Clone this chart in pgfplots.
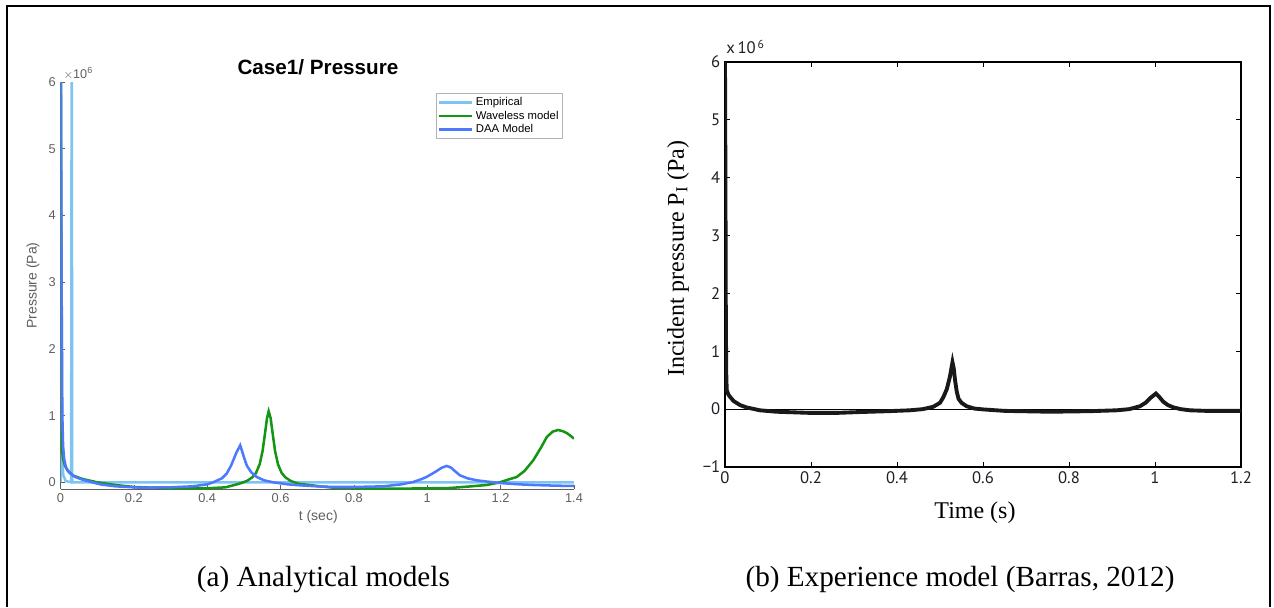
\documentclass[border=0pt]{standalone}
\usepackage{fontspec}
\setmainfont{Liberation Serif}
\newfontfamily\helv{Liberation Sans}
\newfontfamily\myr{PT Sans}
\usepackage{pgfplots}
\pgfplotsset{compat=1.18}
\definecolor{emp}{RGB}{125,196,245}
\definecolor{wav}{RGB}{20,150,20}
\definecolor{daa}{RGB}{77,121,255}
\definecolor{axgray}{RGB}{95,95,95}
\definecolor{tk}{RGB}{30,30,40}

\begin{document}
\begin{tikzpicture}
\path[use as bounding box] (0,0) rectangle (955.5pt,455.25pt);
\draw[line width=1.5pt] (4.9pt,0) -- (4.9pt,450.4pt) -- (952.5pt,450.4pt) -- (952.5pt,0);

% ---------------- left panel ----------------
\begin{axis}[
  at={(45.375pt,88.5pt)}, anchor=south west, scale only axis,
  width=385.1pt, height=305.25pt,
  xmin=0, xmax=1.4, ymin=-0.1, ymax=6,
  axis lines*=left,
  axis line style={axgray, line width=0.6pt},
  tick align=inside, major tick length=3pt,
  tick style={axgray, line width=0.5pt},
  xtick={0,0.2,0.4,0.6,0.8,1,1.2,1.4},
  xticklabels={0,0.2,0.4,0.6,0.8,1,1.2,1.4},
  ytick={0,1,2,3,4,5,6},
  yticklabels={0,1,2,3,4,5,6},
  ticklabel style={font=\helv\fontsize{9.6}{10}\selectfont, text=axgray},
  xlabel={t (sec)}, ylabel={Pressure (Pa)},
  xlabel style={font=\helv\fontsize{10.5}{12}\selectfont, text=axgray, at={(axis description cs:0.502,-0.069)}, anchor=center},
  ylabel style={font=\helv\fontsize{10.5}{12}\selectfont, text=axgray, at={(axis description cs:-0.0536,0.5)}, anchor=center},
  legend style={at={(0.9786,0.973)}, anchor=north east, draw=gray!60, line width=0.6pt,
    font=\helv\fontsize{8.5}{9.5}\selectfont, inner sep=1pt, row sep=-1.5pt, cells={anchor=west}},
  legend image code/.code={\draw[#1] (0pt,0pt) -- (25pt,0pt);},
]
\addplot[emp, line width=1.9pt] coordinates {
(0,0) (0.001,7) (0.0045,0.3) (0.008,0.1) (0.014,0.02) (0.029,0.0) (0.0305,7) (0.032,0.0) (1.4,0.0)};
\addlegendentry{Empirical}
\addplot[wav, line width=1.9pt] coordinates {
(0,8) (0.002,2) (0.003,0.9) (0.004,0.5) (0.007,0.35) (0.012,0.25) (0.02,0.17) (0.035,0.1)
(0.06,0.05) (0.1,0.0) (0.15,-0.04) (0.2,-0.07) (0.3,-0.09) (0.4,-0.09) (0.45,-0.075)
(0.488,-0.02) (0.508,0.02) (0.523,0.075) (0.533,0.14) (0.543,0.27) (0.551,0.47) (0.558,0.75)
(0.563,0.96) (0.5676,1.065) (0.573,0.96) (0.578,0.75) (0.585,0.47) (0.593,0.27) (0.603,0.14)
(0.613,0.075) (0.628,0.02) (0.648,-0.02) (0.707,-0.06) (0.744,-0.08) (0.85,-0.095)
(0.925,-0.095) (1.0,-0.09) (1.062,-0.085) (1.12,-0.06) (1.162,-0.04) (1.198,0.0) (1.22,0.04)
(1.244,0.08) (1.265,0.17) (1.289,0.33) (1.31,0.52) (1.326,0.68) (1.342,0.76) (1.357,0.785)
(1.37,0.765) (1.38,0.74) (1.39,0.7) (1.4,0.655)};
\addlegendentry{Waveless model}
\addplot[daa, line width=1.9pt] coordinates {
(0,8) (0.003,3) (0.005,1.0) (0.007,0.55) (0.01,0.35) (0.015,0.22) (0.025,0.14) (0.04,0.08)
(0.06,0.04) (0.08,0.01) (0.108,-0.03) (0.15,-0.06) (0.217,-0.08) (0.3,-0.075) (0.36,-0.06)
(0.4,-0.03) (0.416,0.0) (0.44,0.06) (0.453,0.13) (0.465,0.25) (0.471,0.33) (0.48,0.45)
(0.49,0.555) (0.5,0.38) (0.508,0.25) (0.52,0.15) (0.535,0.08) (0.555,0.03) (0.58,0.0)
(0.62,-0.03) (0.653,-0.045) (0.7,-0.06) (0.744,-0.07) (0.8,-0.07) (0.88,-0.06) (0.93,-0.03)
(0.962,0.005) (0.985,0.05) (0.998,0.08) (1.02,0.15) (1.04,0.22) (1.053,0.245) (1.065,0.22)
(1.075,0.17) (1.089,0.105) (1.11,0.06) (1.135,0.03) (1.165,0.01) (1.198,-0.01) (1.25,-0.03)
(1.289,-0.04) (1.35,-0.05) (1.4,-0.055)};
\addlegendentry{DAA Model}
\end{axis}
\node[anchor=base west, font=\helv\fontsize{9.5}{10}\selectfont, text=axgray, inner sep=0pt] at (47.5pt,396pt) {$\times$10\textsuperscript{6}};
\node[anchor=base, font=\helv\bfseries\fontsize{15.5}{17}\selectfont, inner sep=0pt] at (238.5pt,399pt) {Case1/ Pressure};

% ---------------- right panel ----------------
\begin{axis}[
  at={(543.75pt,105pt)}, anchor=south west, scale only axis,
  width=387pt, height=303.75pt,
  xmin=0, xmax=1.2, ymin=-1, ymax=6,
  axis line style={black, line width=0.8pt},
  tick align=inside, major tick length=3.75pt,
  tick style={black, line width=0.6pt},
  xtick={0,0.2,0.4,0.6,0.8,1,1.2},
  xticklabels={0,0.2,0.4,0.6,0.8,1,1.2},
  ytick={-1,0,1,2,3,4,5,6},
  yticklabels={\textminus1,0,1,2,3,4,5,6},
  ticklabel style={font=\myr\fontsize{12.5}{14}\selectfont, text=tk},
  xlabel={Time (s)}, ylabel={Incident pressure P\textsubscript{I} (Pa)},
  xlabel style={font=\fontsize{18}{21}\selectfont, at={(axis description cs:0.4845,-0.114)}, anchor=center},
  ylabel style={font=\fontsize{18}{21}\selectfont, at={(axis description cs:-0.091,0.514)}, anchor=center},
]
\addplot[black, line width=0.5pt] coordinates {(0,0) (1.2,0)};
\addplot[black!90, line width=2.9pt] coordinates {
(0,6) (0.001,4) (0.002,1.5) (0.003,0.6) (0.004,0.33) (0.008,0.25) (0.012,0.21) (0.02,0.14)
(0.035,0.07) (0.05,0.03) (0.081,-0.02) (0.12,-0.045) (0.198,-0.065) (0.26,-0.065) (0.314,-0.05)
(0.38,-0.035) (0.43,-0.02) (0.46,0.0) (0.484,0.04) (0.5,0.11) (0.508,0.21) (0.516,0.35)
(0.523,0.56) (0.529,0.81) (0.532,0.7) (0.535,0.5) (0.539,0.3) (0.543,0.18) (0.55,0.11)
(0.562,0.05) (0.58,0.01) (0.601,-0.005) (0.65,-0.03) (0.756,-0.045) (0.85,-0.035) (0.911,-0.02)
(0.94,0.0) (0.965,0.05) (0.978,0.11) (0.988,0.185) (1.002,0.27) (1.01,0.21) (1.019,0.13)
(1.03,0.07) (1.043,0.03) (1.06,0.0) (1.081,-0.02) (1.12,-0.03) (1.2,-0.03)};
\end{axis}
\node[anchor=base west, font=\myr\fontsize{12.5}{14}\selectfont, text=tk, inner sep=0pt] at (544.5pt,414.75pt) {x\,10\textsuperscript{\,6}};

% ---------------- captions ----------------
\node[anchor=base, font=\fontsize{21.9}{26}\selectfont, inner sep=0pt] at (242.5pt,15.75pt) {(a) Analytical models};
\node[anchor=base, font=\fontsize{21.9}{26}\selectfont, inner sep=0pt] at (720pt,15.75pt) {(b) Experience model (Barras, 2012)};
\end{tikzpicture}
\end{document}
